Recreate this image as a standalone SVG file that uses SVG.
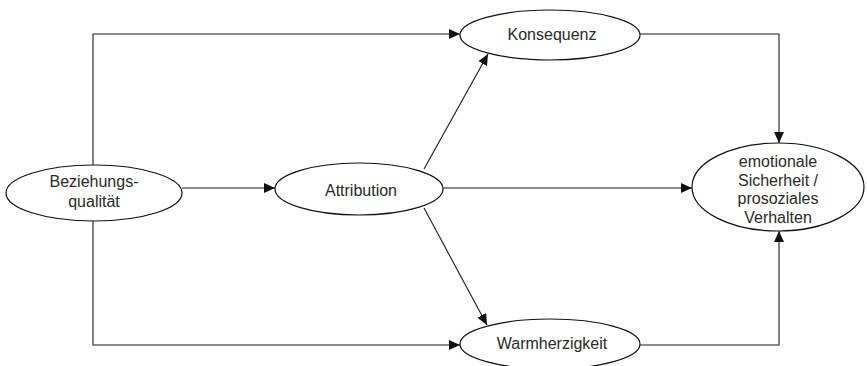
<svg xmlns="http://www.w3.org/2000/svg" width="867" height="366" viewBox="0 0 867 366">
<style>
.n ellipse{fill:#fff;stroke:#111;stroke-width:1.2}
.n text{font-family:"Liberation Sans",Arial,sans-serif;font-size:16px;fill:#2a2a2a;text-anchor:middle}
.c path{fill:none;stroke:#1a1a1a;stroke-width:1.1}
</style>
<defs>
<marker id="a" markerWidth="12" markerHeight="10" refX="11" refY="5" orient="auto" markerUnits="userSpaceOnUse">
<path d="M0,0 L11,5 L0,10 Z" fill="#111"/>
</marker>
</defs>
<rect width="867" height="366" fill="#fff"/>
<g class="c">
<path d="M93,165 V34 H460" marker-end="url(#a)"/>
<path d="M93,221 V345 H460" marker-end="url(#a)"/>
<path d="M182,188 H275" marker-end="url(#a)"/>
<path d="M443,188 H692" marker-end="url(#a)"/>
<path d="M424,169 L488,54" marker-end="url(#a)"/>
<path d="M424,208 L487,325" marker-end="url(#a)"/>
<path d="M640,34 H779 V143" marker-end="url(#a)"/>
<path d="M640,345 H779 V231" marker-end="url(#a)"/>
</g>
<g id="beziehung" class="n">
<ellipse cx="94" cy="193" rx="88" ry="28"/>
<text x="94" y="187">Beziehungs-</text>
<text x="94" y="207">qualität</text>
</g>
<g id="attribution" class="n">
<ellipse cx="359" cy="189" rx="84" ry="26"/>
<text x="361" y="196">Attribution</text>
</g>
<g id="konsequenz" class="n">
<ellipse cx="550" cy="35" rx="90" ry="25"/>
<text x="552" y="40">Konsequenz</text>
</g>
<g id="warmherzigkeit" class="n">
<ellipse cx="550" cy="344" rx="90" ry="25"/>
<text x="552" y="349">Warmherzigkeit</text>
</g>
<g id="ergebnis" class="n">
<ellipse cx="778" cy="187" rx="86" ry="44"/>
<text x="778" y="167">emotionale</text>
<text x="778" y="186">Sicherheit /</text>
<text x="778" y="204">prosoziales</text>
<text x="778" y="223">Verhalten</text>
</g>
</svg>
